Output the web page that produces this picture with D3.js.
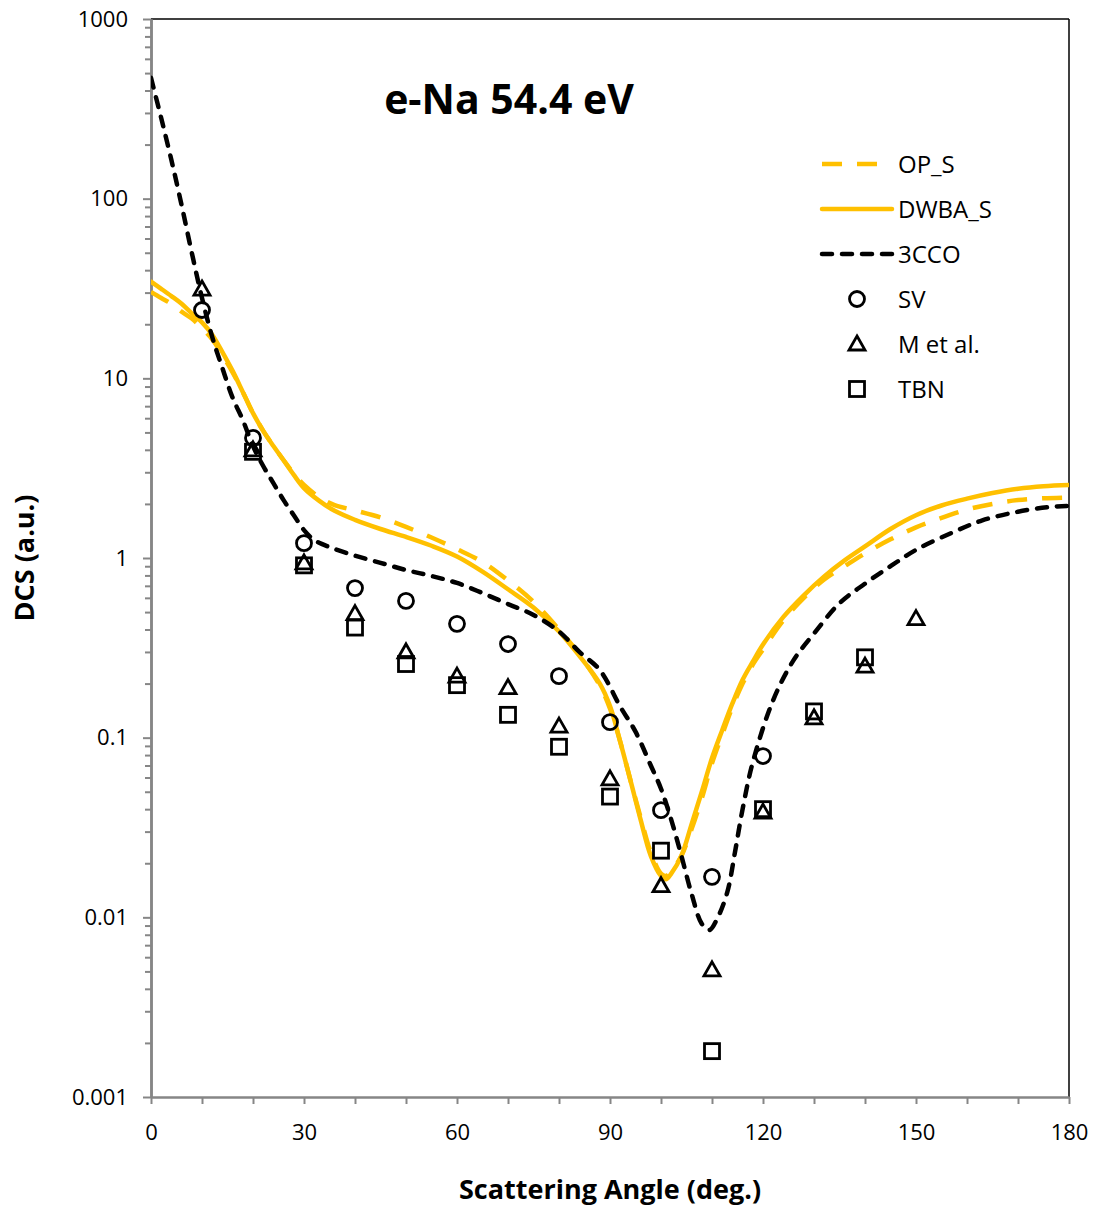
<!DOCTYPE html>
<html>
<head>
<meta charset="utf-8">
<script src="https://cdn.jsdelivr.net/npm/d3@7/dist/d3.min.js"></script>
<style>
	body { margin: 0; background: #fff; }
	svg text { font-family: "Open Sans", "Noto Sans", sans-serif; fill: #000; }
</style>
</head>
<body>
<script>
// angle grid shared by the two orange curves
var curveAngles = [0, 2, 4, 6, 8, 10, 12, 14, 16, 18, 20, 22, 24, 26, 28, 30, 33, 36, 40, 45,
	50, 55, 60, 65, 70, 75, 80, 84, 88, 90, 92, 94, 96, 98, 100, 101, 102, 104, 106, 108,
	110, 112, 114, 116, 118, 120, 124, 128, 132, 136, 140, 145, 150, 155, 160, 165, 170, 175, 180];
var opValues = [30.3, 28, 26, 23.5, 21.5, 19, 16.5, 13.5, 10.8, 8.4, 6.4, 5.1, 4.2, 3.5, 2.95, 2.55, 2.18, 1.97, 1.84, 1.68,
	1.49, 1.3, 1.12, 0.95, 0.75, 0.57, 0.4, 0.29, 0.195, 0.145, 0.095, 0.058, 0.036, 0.023, 0.0175, 0.017, 0.018, 0.022, 0.031, 0.046,
	0.072, 0.104, 0.148, 0.2, 0.255, 0.31, 0.45, 0.6, 0.76, 0.9, 1.06, 1.27, 1.48, 1.67, 1.86, 2.0, 2.1, 2.15, 2.17];
var dwbaValues = [34.5, 31.5, 28.7, 26, 23, 20.5, 17.5, 14, 11, 8.4, 6.4, 5.1, 4.2, 3.5, 2.9, 2.45, 2.08, 1.83, 1.63, 1.45,
	1.31, 1.17, 1.02, 0.84, 0.67, 0.53, 0.39, 0.285, 0.2, 0.15, 0.095, 0.058, 0.035, 0.022, 0.017, 0.0163, 0.0175, 0.022, 0.033, 0.05,
	0.077, 0.11, 0.155, 0.21, 0.265, 0.33, 0.47, 0.62, 0.79, 0.97, 1.16, 1.45, 1.73, 1.96, 2.14, 2.3, 2.43, 2.51, 2.55];

var ccoAngles = [0, 2, 4, 6, 8, 10, 12, 14, 16, 18, 20, 22, 24, 26, 28, 30, 32, 35, 40, 45,
	50, 55, 60, 65, 70, 75, 80, 84, 88, 92, 95, 98, 100, 102, 104, 106, 108, 109.5, 111, 113,
	114.5, 116, 118, 122, 126, 130, 135, 140, 145, 150, 157, 163, 170, 176, 180];
var ccoValues = [470, 281, 164, 92, 50, 28, 17, 11.4, 7.8, 5.86, 4.2, 3.25, 2.61, 2.1, 1.73, 1.43, 1.26, 1.15, 1.03, 0.94,
	0.857, 0.794, 0.726, 0.638, 0.554, 0.482, 0.39, 0.3, 0.238, 0.149, 0.108, 0.07, 0.052, 0.035, 0.022, 0.0135, 0.0092, 0.0085, 0.0098, 0.0138,
	0.023, 0.04, 0.073, 0.162, 0.27, 0.38, 0.56, 0.72, 0.9, 1.11, 1.38, 1.62, 1.81, 1.92, 1.95];

var svAngles = [10, 20, 30, 40, 50, 60, 70, 80, 90, 100, 110, 120];
var svValues = [24, 4.66, 1.21, 0.68, 0.577, 0.43, 0.332, 0.22, 0.122, 0.0395, 0.0168, 0.079];
var mAngles = [10, 20, 30, 40, 50, 60, 70, 80, 90, 100, 110, 120, 130, 140, 150];
var mValues = [31.4, 4.0, 0.94, 0.49, 0.30, 0.22, 0.19, 0.116, 0.059, 0.015, 0.0051, 0.0385, 0.129, 0.25, 0.46];
var tbnAngles = [20, 30, 40, 50, 60, 70, 80, 90, 100, 110, 120, 130, 140];
var tbnValues = [3.9, 0.91, 0.41, 0.257, 0.196, 0.134, 0.089, 0.047, 0.0235, 0.0018, 0.040, 0.14, 0.28];

var xTicks = [0, 10, 20, 30, 40, 50, 60, 70, 80, 90, 100, 110, 120, 130, 140, 150, 160, 170, 180];
var yDecades = [0.001, 0.01, 0.1, 1, 10, 100, 1000];
var yLabels = ["0.001", "0.01", "0.1", "1", "10", "100", "1000"];

var W = 1094, H = 1207;
var plotL = 151, plotR = 1069, plotT = 19, plotB = 1097;

var svg = d3.select("body").append("svg").attr("width", W).attr("height", H);

var x = d3.scaleLinear().domain([0, 180]).range([plotL, plotR]);
var y = d3.scaleLog().domain([0.001, 1000]).range([plotB, plotT]);

// minor log ticks 2..9 in each decade
var yMinor = [];
yDecades.slice(0, -1).forEach(function(d) {
	for (var k = 2; k <= 9; k++) yMinor.push(d * k);
});

// plot area frame (top + right in black)
svg.append("line").attr("x1", plotL).attr("x2", plotR).attr("y1", plotT).attr("y2", plotT)
	.attr("stroke", "#000").attr("stroke-width", 1.5);
svg.append("line").attr("x1", plotR).attr("x2", plotR).attr("y1", plotT).attr("y2", plotB)
	.attr("stroke", "#000").attr("stroke-width", 1.5);

function styleAxis(g) {
	g.select(".domain").attr("stroke", "#868686").attr("stroke-width", 2.5);
	g.selectAll(".tick line").attr("stroke", "#868686").attr("stroke-width", 2);
	g.selectAll(".tick text").style("font-size", "22px").attr("fill", "#000");
}

svg.append("g").attr("transform", "translate(" + plotL + ",0)")
	.call(d3.axisLeft(y).tickValues(yMinor).tickSize(6).tickSizeOuter(0).tickFormat(""))
	.call(styleAxis);
svg.append("g").attr("transform", "translate(" + plotL + ",0)")
	.call(d3.axisLeft(y).tickValues(yDecades).tickSize(8).tickSizeOuter(0).tickPadding(15)
		.tickFormat(function(d, i) { return yLabels[i]; }))
	.call(styleAxis);

svg.append("g").attr("transform", "translate(0," + plotB + ")")
	.call(d3.axisBottom(x).tickValues(xTicks).tickSize(7).tickSizeOuter(0).tickPadding(20)
		.tickFormat(function(d) { return d % 30 === 0 ? d : ""; }))
	.call(styleAxis);

// curves
svg.append("clipPath").attr("id", "clip").append("rect")
	.attr("x", plotL).attr("y", plotT).attr("width", plotR - plotL).attr("height", plotB - plotT);
var plot = svg.append("g").attr("clip-path", "url(#clip)");

var line = d3.line().x(function(d) { return x(d[0]); }).y(function(d) { return y(d[1]); })
	.curve(d3.curveCatmullRom.alpha(0.5));

var series = [
	{ name: "OP_S", angles: curveAngles, values: opValues, color: "#FFC000", dash: "20,15", cap: "butt" },
	{ name: "DWBA_S", angles: curveAngles, values: dwbaValues, color: "#FFC000", dash: null, cap: "round" },
	{ name: "3CCO", angles: ccoAngles, values: ccoValues, color: "#000", dash: "10,10", cap: "round" }
];

series.forEach(function(s) {
	plot.append("path")
		.datum(d3.zip(s.angles, s.values))
		.attr("d", line)
		.attr("fill", "none")
		.attr("stroke", s.color)
		.attr("stroke-width", 4.5)
		.attr("stroke-linecap", s.cap)
		.attr("stroke-linejoin", "round")
		.attr("stroke-dasharray", s.dash);
});

// markers
function marker(g, kind) {
	if (kind === "circle") {
		g.append("circle").attr("r", 7.5);
	} else if (kind === "triangle") {
		g.append("path").attr("d", "M0,-8L8,6L-8,6Z");
	} else {
		g.append("rect").attr("x", -7.5).attr("y", -7.5).attr("width", 15).attr("height", 15);
	}
	g.selectAll("circle,path,rect").attr("fill", "none").attr("stroke", "#000")
		.attr("stroke-width", 2.8).attr("stroke-linejoin", "miter");
}

var points = [
	{ name: "SV", angles: svAngles, values: svValues, kind: "circle" },
	{ name: "M et al.", angles: mAngles, values: mValues, kind: "triangle" },
	{ name: "TBN", angles: tbnAngles, values: tbnValues, kind: "square" }
];

points.forEach(function(p) {
	plot.selectAll(null).data(d3.zip(p.angles, p.values)).enter().append("g")
		.attr("transform", function(d) { return "translate(" + x(d[0]) + "," + y(d[1]) + ")"; })
		.each(function() { marker(d3.select(this), p.kind); });
});

// legend
var legend = svg.append("g");
var rowY = function(i) { return 164 + i * 45; };
series.forEach(function(s, i) {
	legend.append("line").attr("x1", 822).attr("x2", 892).attr("y1", rowY(i)).attr("y2", rowY(i))
		.attr("stroke", s.color).attr("stroke-width", 4.5)
		.attr("stroke-linecap", s.cap).attr("stroke-dasharray", s.dash);
	legend.append("text").attr("x", 898).attr("y", rowY(i)).attr("dy", "0.36em")
		.style("font-size", "24px").text(s.name);
});
points.forEach(function(p, i) {
	var g = legend.append("g").attr("transform", "translate(857," + rowY(i + 3) + ")");
	marker(g, p.kind);
	legend.append("text").attr("x", 898).attr("y", rowY(i + 3)).attr("dy", "0.36em")
		.style("font-size", "24px").text(p.name);
});

// titles
svg.append("text").attr("x", 509).attr("y", 114).attr("text-anchor", "middle")
	.style("font-size", "41px").style("font-weight", "bold").text("e-Na 54.4 eV");

svg.append("text").attr("x", 610).attr("y", 1199).attr("text-anchor", "middle")
	.style("font-size", "27px").style("font-weight", "bold").text("Scattering Angle (deg.)");

svg.append("text").attr("transform", "translate(34,558) rotate(-90)").attr("text-anchor", "middle")
	.style("font-size", "27px").style("font-weight", "bold").text("DCS (a.u.)");
</script>
</body>
</html>
